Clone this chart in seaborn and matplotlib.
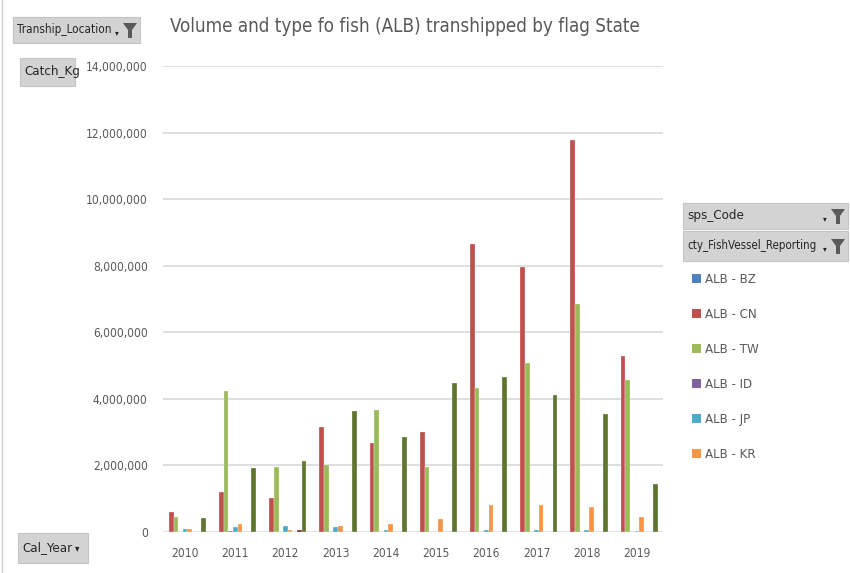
import pandas as pd
import matplotlib
matplotlib.use("Agg")
import matplotlib.pyplot as plt
from matplotlib.patches import Rectangle, Polygon, Patch
import seaborn as sns

# datos (kg)
years = ["2010", "2011", "2012", "2013", "2014", "2015", "2016", "2017", "2018", "2019"]
series = ["ALB - BZ", "ALB - CN", "ALB - TW", "ALB - ID", "ALB - JP", "ALB - KR",
          "ALB - s7", "ALB - s8", "ALB - s9"]
alb_bz = [0, 0, 0, 0, 0, 0, 0, 0, 0, 0]
alb_cn = [610000, 1210000, 1010000, 3140000, 2660000, 3010000, 8650000, 7970000, 11770000, 5300000]
alb_tw = [460000, 4240000, 1940000, 2020000, 3660000, 1940000, 4340000, 5090000, 6840000, 4560000]
alb_id = [0, 40000, 0, 0, 0, 0, 0, 0, 0, 0]
alb_jp = [80000, 160000, 190000, 160000, 60000, 0, 60000, 70000, 70000, 40000]
alb_kr = [80000, 230000, 70000, 190000, 230000, 400000, 800000, 820000, 760000, 460000]
alb_s7 = [0, 0, 0, 0, 0, 0, 0, 0, 0, 0]
alb_s8 = [0, 0, 50000, 0, 0, 0, 0, 0, 0, 0]
alb_s9 = [410000, 1910000, 2130000, 3630000, 2860000, 4470000, 4650000, 4130000, 3550000, 1450000]
colores = ["#4F81BD", "#C0504D", "#9BBB59", "#8064A2", "#4BACC6", "#F79646",
           "#2C4D75", "#772C2A", "#5F7530"]

valores = [alb_bz, alb_cn, alb_tw, alb_id, alb_jp, alb_kr, alb_s7, alb_s8, alb_s9]
filas = []
for nombre, vals in zip(series, valores):
    for anio, v in zip(years, vals):
        filas.append({"Cal_Year": anio, "serie": nombre, "Catch_Kg": v})
df = pd.DataFrame(filas)

sns.set_theme(style="white")
plt.rcParams["font.family"] = ["DejaVu Sans"]
plt.rcParams["font.stretch"] = "condensed"
gris = "#595959"

W, H = 850, 573
fig = plt.figure(figsize=(8.5, 5.73), dpi=100)
ax = fig.add_axes([163 / W, 1 - 532 / H, 500 / W, 466 / H])

sns.barplot(data=df, x="Cal_Year", y="Catch_Kg", hue="serie", hue_order=series,
            palette=colores, saturation=1, width=0.83, legend=False, ax=ax,
            errorbar=None, edgecolor="white", linewidth=0.2)

ax.set_ylim(0, 14000000)
ax.set_xlim(-0.44, 9.52)
ax.set_yticks(range(0, 14000001, 2000000))
ax.yaxis.set_major_formatter(matplotlib.ticker.FuncFormatter(lambda v, p: f"{int(v):,}"))
ax.grid(axis="y", color="#D9D9D9", linewidth=1.2)
ax.set_axisbelow(True)
for s in ax.spines.values():
    s.set_visible(False)
ax.tick_params(axis="both", length=0, colors=gris, labelsize=8.6)
ax.tick_params(axis="y", pad=11)
ax.tick_params(axis="x", pad=11)
ax.set_xlabel("")
ax.set_ylabel("")


def px(x, y):
    return x / W, 1 - y / H


def boton(x0, y0, x1, y1, texto, size=9.5, funnel=True):
    fig.add_artist(Rectangle(px(x0, y1), (x1 - x0) / W, (y1 - y0) / H,
                             transform=fig.transFigure, facecolor="#D3D3D3",
                             edgecolor="#C4C4C4", linewidth=0.8))
    fig.text(*px(x0 + 4, (y0 + y1) / 2), texto, fontsize=size, color="#262626",
             va="center", ha="left")
    if funnel:
        cx, cy = x1 - 10, (y0 + y1) / 2
        fig.add_artist(Polygon([px(cx - 7, cy - 7), px(cx + 7, cy - 7), px(cx + 2, cy),
                                px(cx + 2, cy + 8), px(cx - 2, cy + 8), px(cx - 2, cy)],
                               closed=True, transform=fig.transFigure,
                               facecolor="#5A5A5A", edgecolor="none"))
        fig.text(*px(cx - 13, cy + 3), "▾", fontsize=6, color="#262626",
                 va="center", ha="center")


boton(13, 17, 140, 43, "Tranship_Location", size=8.5)
boton(20, 58, 75, 86, "Catch_Kg", funnel=False)
boton(18, 533, 88, 563, "Cal_Year", funnel=False)
fig.text(*px(77, 548), "▾", fontsize=7, color="#262626", va="center", ha="center")
boton(683, 203, 848, 229, "sps_Code")
boton(683, 231, 848, 261, "cty_FishVessel_Reporting", size=8.3)

fig.text(*px(405, 27), "Volume and type fo fish (ALB) transhipped by flag State",
         fontsize=13.5, color=gris, ha="center", va="center")

# leyenda solo con las 6 primeras series (el resto queda cortado)
handles = [Patch(facecolor=c, edgecolor="none") for c in colores[:6]]
fig.legend(handles, series[:6], loc="upper left", bbox_to_anchor=px(680, 261),
           frameon=False, fontsize=9.5, handlelength=0.7, handleheight=0.7,
           handletextpad=0.3, labelspacing=1.67, labelcolor=gris)

# borde izquierdo de la captura
fig.add_artist(plt.Line2D([2 / W, 2 / W], [0, 1], color="#D0D0D0", linewidth=1,
                          transform=fig.transFigure))

fig.savefig("out.png", dpi=100)
